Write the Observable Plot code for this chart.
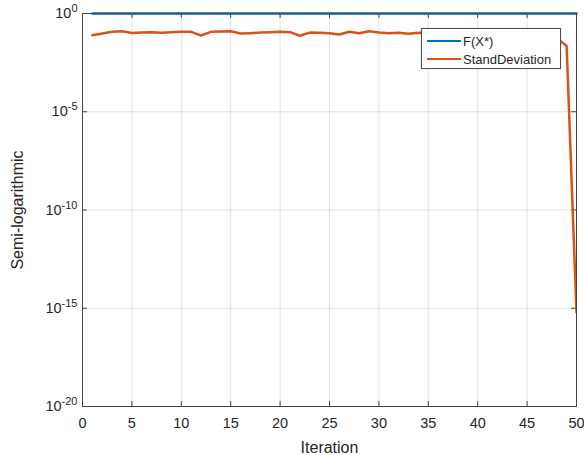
<!DOCTYPE html>
<html>
<head>
<meta charset="utf-8">
<script src="https://cdn.jsdelivr.net/npm/d3@7"></script>
<script src="https://cdn.jsdelivr.net/npm/@observablehq/plot@0.6"></script>
<style>
  body { margin: 0; background: #fff; font-family: "Liberation Sans", Arial, sans-serif; }
  #wrap { position: relative; width: 584px; height: 455px; }
  .legend { position: absolute; left: 421px; top: 28px; width: 140px; height: 41px;
            background: #fff; border: 1px solid #505050; box-sizing: border-box;
            box-shadow: 0 0 1px rgba(0,0,0,0.3); font-size: 13px; color: #262626; }
  .legend .row { position: absolute; left: 5px; height: 16px; display: flex; align-items: center; }
  .legend .sw { width: 34px; height: 2.5px; margin-right: 2px; }
</style>
</head>
<body>
<div id="wrap"></div>
<script>
// ---- data ----
const iterations = [1,2,3,4,5,6,7,8,9,10,11,12,13,14,15,16,17,18,19,20,21,22,23,24,25,
                    26,27,28,29,30,31,32,33,34,35,36,37,38,39,40,41,42,43,44,45,46,47,48,49,50];
const fValues = [1,1,1,1,1,1,1,1,1,1,1,1,1,1,1,1,1,1,1,1,1,1,1,1,1,
                 1,1,1,1,1,1,1,1,1,1,1,1,1,1,1,1,1,1,1,1,1,1,1,1,1];
const sdValues = [0.079,0.095,0.117,0.126,0.102,0.107,0.110,0.105,0.112,0.117,
                  0.117,0.076,0.117,0.120,0.126,0.095,0.100,0.107,0.112,0.117,
                  0.112,0.074,0.107,0.105,0.100,0.085,0.117,0.100,0.126,0.107,
                  0.100,0.105,0.093,0.105,0.100,0.110,0.098,0.115,0.102,0.095,
                  0.108,0.112,0.090,0.104,0.110,0.099,0.102,0.056,0.022,6.3e-16];
const seriesNames = ["F(X*)", "StandDeviation"];
const seriesColors = ["#0072BD", "#D95319"];
const xTicks = [0,5,10,15,20,25,30,35,40,45,50];
const yTicks = [1, 1e-5, 1e-10, 1e-15, 1e-20];
const xLabel = "Iteration";
const yLabel = "Semi-logarithmic";

const fData = iterations.map((x, i) => ({x, y: fValues[i]}));
const sdData = iterations.map((x, i) => ({x, y: sdValues[i]}));

const axisColor = "#444";
const tickLenX = 0.5;    // x units (~5px)
const tickLenY = 0.25;   // decades (~5px)

const plot = Plot.plot({
  width: 584,
  height: 455,
  marginLeft: 82,
  marginRight: 8,
  marginTop: 13,
  marginBottom: 49,
  style: { fontFamily: '"Liberation Sans", Arial, sans-serif', fontSize: "14.5px", color: "#262626", background: "#fff" },
  x: { type: "linear", domain: [0, 50] },
  y: { type: "log", domain: [1e-20, 1] },
  marks: [
    Plot.gridX(xTicks, { stroke: "#262626", strokeOpacity: 0.13 }),
    Plot.gridY(yTicks, { stroke: "#262626", strokeOpacity: 0.13 }),
    // inward ticks, all four sides
    Plot.ruleX(xTicks, { y1: 1e-20, y2: Math.pow(10, -20 + tickLenY), stroke: axisColor }),
    Plot.ruleX(xTicks, { y1: 1, y2: Math.pow(10, -tickLenY), stroke: axisColor }),
    Plot.ruleY(yTicks, { x1: 0, x2: tickLenX, stroke: axisColor }),
    Plot.ruleY(yTicks, { x1: 50, x2: 50 - tickLenX, stroke: axisColor }),
    Plot.line(sdData, { x: "x", y: "y", stroke: seriesColors[1], strokeWidth: 2.5, clip: true }),
    Plot.line(fData, { x: "x", y: "y", stroke: seriesColors[0], strokeWidth: 2.5 }),
    Plot.frame({ stroke: axisColor }),
    Plot.axisX(xTicks, { tickSize: 0, tickPadding: 11, label: null, fontSize: 14.5 }),
    Plot.axisY(yTicks, { tickSize: 0, tickPadding: 5, label: null, fontSize: 14.5,
      tickFormat: d => "10^" + Math.round(Math.log10(d)) }),
    Plot.text([xLabel], { frameAnchor: "bottom", lineAnchor: "middle", textAnchor: "middle", dy: 41, fontSize: 16, fill: "#262626" }),
    Plot.text([yLabel], { frameAnchor: "left", textAnchor: "middle", lineAnchor: "middle", dx: -65, rotate: -90, fontSize: 16, fill: "#262626" })
  ]
});

// superscript exponents on y tick labels
plot.querySelectorAll('g[aria-label="y-axis tick label"] text').forEach(t => {
  const s = t.textContent;
  const parts = s.split("^");
  if (parts.length !== 2) return;
  t.textContent = "";
  const ns = "http://www.w3.org/2000/svg";
  const base = document.createElementNS(ns, "tspan");
  base.textContent = parts[0];
  const sup = document.createElementNS(ns, "tspan");
  sup.textContent = parts[1];
  sup.setAttribute("dy", "-0.55em");
  sup.setAttribute("font-size", "11px");
  t.appendChild(base);
  t.appendChild(sup);
});

const wrap = document.getElementById("wrap");
wrap.appendChild(plot);

// legend
const leg = document.createElement("div");
leg.className = "legend";
seriesNames.forEach((name, i) => {
  const row = document.createElement("div");
  row.className = "row";
  row.style.top = (i === 0 ? 4 : 22) + "px";
  const sw = document.createElement("span");
  sw.className = "sw";
  sw.style.background = seriesColors[i];
  const lab = document.createElement("span");
  lab.textContent = name;
  row.appendChild(sw);
  row.appendChild(lab);
  leg.appendChild(row);
});
wrap.appendChild(leg);
</script>
</body>
</html>
